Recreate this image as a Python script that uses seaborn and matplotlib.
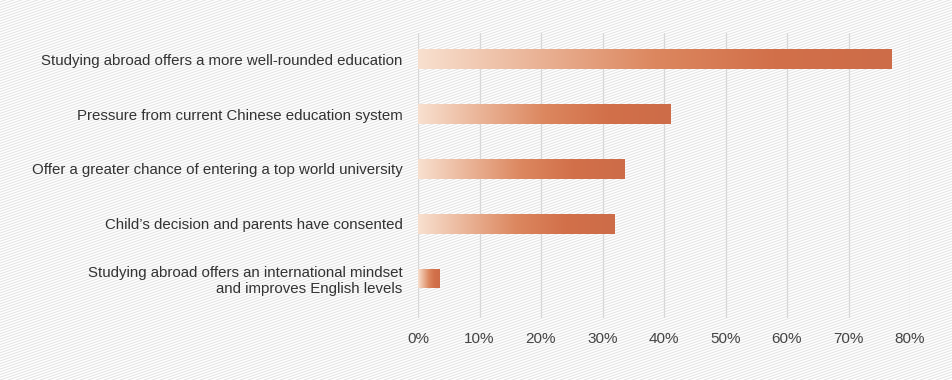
import numpy as np
import pandas as pd
import seaborn as sns
import matplotlib.pyplot as plt
from matplotlib.colors import LinearSegmentedColormap
from matplotlib.lines import Line2D

reasons = [
    "Studying abroad offers a more well-rounded education",
    "Pressure from current Chinese education system",
    "Offer a greater chance of entering a top world university",
    "Child\u2019s decision and parents have consented",
    "Studying abroad offers an international mindset\nand improves English levels",
]
shares = [77, 41, 33.5, 32, 3.5]
ticks = [0, 10, 20, 30, 40, 50, 60, 70, 80]

df = pd.DataFrame({"reason": reasons, "share": shares})

sns.set_theme(style="white")
plt.rcParams['font.family'] = ['Liberation Sans', 'DejaVu Sans']

fig = plt.figure(figsize=(9.52, 3.8), dpi=100)
fig.patch.set_facecolor("white")

# diagonal hatch texture in the background
bg = fig.add_axes([0, 0, 1, 1], zorder=-1)
bg.set_xlim(0, 952)
bg.set_ylim(0, 380)
bg.axis("off")
for x0 in np.arange(-1200, 952, 8):
    bg.add_line(Line2D([x0, x0 + 1300], [0, 1300 * 0.34], color="#e2e2e2", lw=0.7))

ax = fig.add_axes([418 / 952, 62 / 380, 492 / 952, 285 / 380])
ax.patch.set_alpha(0)
sns.barplot(data=df, x="share", y="reason", orient="h", width=0.36, ax=ax,
            color="#d2704a", zorder=3)

cmap = LinearSegmentedColormap.from_list(
    "peach", ["#f8e0cf", "#eab396", "#dc875f", "#d2704a", "#cd6c48"])
grad = np.linspace(0, 1, 256).reshape(1, -1)
for p in ax.patches:
    x, y = p.get_x(), p.get_y()
    w, h = p.get_width(), p.get_height()
    p.set_facecolor("none")
    p.set_edgecolor("none")
    im = ax.imshow(grad, cmap=cmap, aspect="auto", extent=[x, x + w, y + h, y],
                   zorder=3, interpolation="bicubic")
    im.set_clip_path(p)

ax.set_xlim(0, 80)
ax.set_ylim(4.72, -0.48)
ax.set_xticks(ticks)
ax.set_xticklabels([f"{t}%" for t in ticks])
ax.xaxis.grid(True, color="#d8d8d8", lw=0.9, zorder=0)
ax.yaxis.grid(False)
for s in ax.spines.values():
    s.set_visible(False)
ax.set_xlabel("")
ax.set_ylabel("")
ax.tick_params(axis="x", length=0, pad=10, labelsize=11, labelcolor="#444444")
ax.tick_params(axis="y", length=0, pad=11, labelsize=10.8, labelcolor="#333333")
for lab in ax.get_yticklabels():
    lab.set_horizontalalignment("right")
    lab.set_multialignment("right")

fig.savefig("out.png", dpi=100)
